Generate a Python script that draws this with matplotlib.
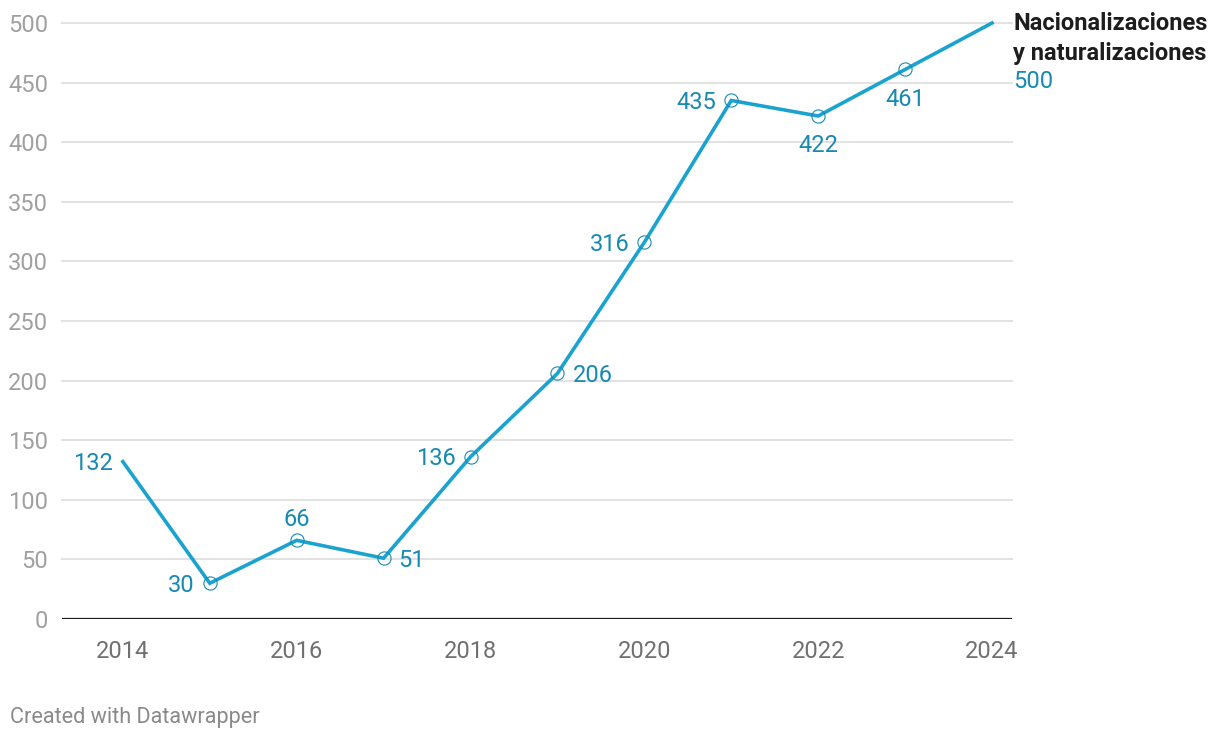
import matplotlib
matplotlib.use("Agg")
import matplotlib.pyplot as plt

# data
years = [2014, 2015, 2016, 2017, 2018, 2019, 2020, 2021, 2022, 2023, 2024]
values = [132, 30, 66, 51, 136, 206, 316, 435, 422, 461, 500]
# where each value label sits relative to its point
label_pos = ['left', 'left', 'above', 'right', 'left', 'right', 'left', 'left', 'below', 'below', None]
series_name = 'Nacionalizaciones\ny naturalizaciones'
yticks = [0, 50, 100, 150, 200, 250, 300, 350, 400, 450, 500]
xticks = [2014, 2016, 2018, 2020, 2022, 2024]

line_col = '#1aa3cf'
label_col = '#1789b2'

plt.rcParams['font.family'] = ['Roboto', 'DejaVu Sans']

W, H = 1220, 740
fig = plt.figure(figsize=(W / 100, H / 100), dpi=100)
ax = fig.add_axes([62 / W, (H - 619) / H, (1012 - 62) / W, (619 - 23) / H])

ax.set_xlim(2013.3, 2024.23)
ax.set_ylim(0, 500)

for y in yticks[1:]:
    ax.axhline(y, color='#e2e2e2', lw=1.4, zorder=1, clip_on=False)
ax.axhline(0, color='#1e1e1e', lw=1.6, zorder=2)

ax.plot(years, values, color=line_col, lw=2.6, zorder=3, clip_on=False,
        solid_joinstyle='miter')
# hollow point markers (not on the first and last year)
ax.plot(years[1:-1], values[1:-1], 'o', ms=9.5, mfc='none', mec='#1a8ab0',
        mew=0.8, zorder=5, clip_on=False)

for x, v, p in zip(years, values, label_pos):
    if p is None:
        continue
    if p == 'left':
        off, ha, va = (-15, -2), 'right', 'center'
    elif p == 'right':
        off, ha, va = (15, -2), 'left', 'center'
    elif p == 'above':
        off, ha, va = (0, 21), 'center', 'center'
    else:
        off, ha, va = (0, -30), 'center', 'center'
    if x == 2014:
        off = (-10, -2)
    ax.annotate(str(v), (x, v), xytext=off, textcoords='offset pixels',
                ha=ha, va=va, fontsize=17, color=label_col, zorder=6)

# end label
ax.annotate(series_name, (years[-1], values[-1]), xytext=(21, 11),
            textcoords='offset pixels', ha='left', va='top', fontsize=17,
            fontweight='bold', color='#1d1d1d', linespacing=1.38,
            annotation_clip=False)
ax.annotate(str(values[-1]), (years[-1], values[-1]), xytext=(21, -59),
            textcoords='offset pixels', ha='left', va='center', fontsize=17,
            color=label_col, annotation_clip=False)

ax.set_yticks(yticks)
ax.set_yticklabels([str(y) for y in yticks], fontsize=17, color='#a0a0a0')
ax.set_xticks(xticks)
ax.set_xticklabels([str(x) for x in xticks], fontsize=17, color='#707070')
ax.tick_params(axis='y', length=0, pad=10)
ax.tick_params(axis='x', length=0, pad=15)
for s in ax.spines.values():
    s.set_visible(False)
ax.set_facecolor('none')

fig.text(10 / W, 1 - 717 / H, 'Created with Datawrapper', fontsize=15.6,
         color='#8a8a8a', ha='left', va='center')

fig.savefig('out.png', dpi=100, facecolor='white')
